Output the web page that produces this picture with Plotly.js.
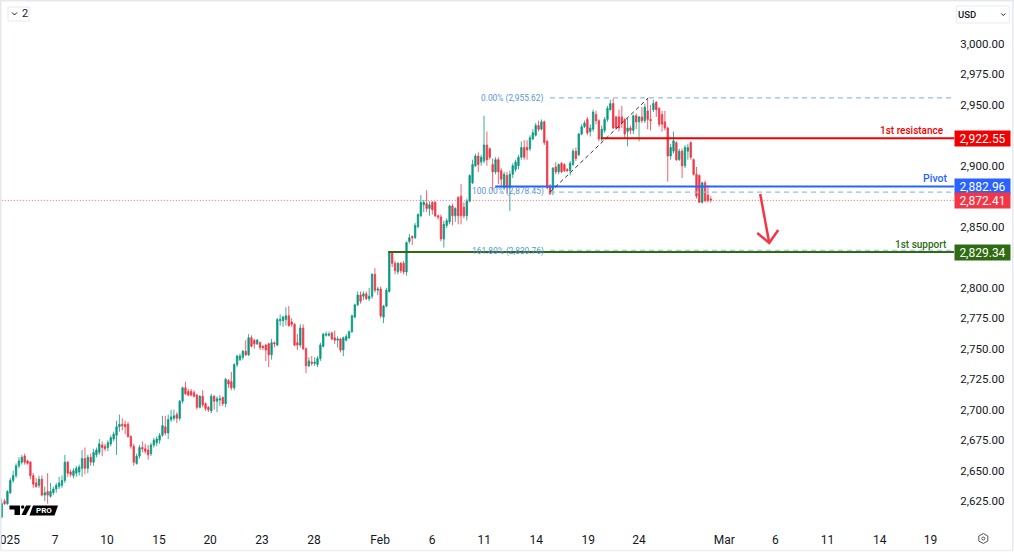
<!DOCTYPE html>
<html><head><meta charset="utf-8">
<script src="https://cdn.plot.ly/plotly-3.0.1.min.js"></script>
<style>html,body{margin:0;padding:0;background:#fff;overflow:hidden}#c{width:1014px;height:559px}</style>
</head><body><div id="c"></div>
<script>
const opens = [
2612,2625,2623,2632,2642,2646,2654,2657,2662,2658,
2657,2646,2640,2638,2643,2630,2633,2629,2632,2635,
2637,2638,2642,2657,2649,2646,2648,2649,2652,2660,
2652,2661,2657,2663,2665,2671,2670,2669,2672,2676,
2679,2686,2688,2688,2688,2678,2670,2656,2662,2669,
2668,2667,2664,2671,2673,2675,2679,2686,2681,2692,
2693,2696,2693,2707,2718,2715,2715,2714,2712,2702,
2711,2705,2702,2699,2711,2707,2708,2710,2705,2724,
2723,2718,2737,2741,2743,2748,2745,2759,2757,2754,
2755,2752,2753,2754,2745,2755,2753,2773,2773,2774,
2777,2772,2770,2755,2753,2767,2750,2736,2739,2738,
2737,2742,2752,2761,2761,2763,2759,2757,2758,2749,
2757,2759,2764,2776,2786,2794,2793,2795,2791,2793,
2811,2798,2799,2776,2785,2797,2829,2820,2813,2820,
2820,2813,2838,2842,2841,2850,2859,2868,2869,2865,
2870,2870,2859,2858,2840,2851,2854,2867,2859,2874,
2875,2866,2859,2871,2886,2900,2908,2903,2904,2917,
2914,2901,2895,2905,2896,2882,2892,2882,2893,2897,
2900,2907,2915,2915,2914,2922,2925,2933,2930,2936,
2920,2883,2881,2899,2895,2902,2901,2897,2896,2901,
2912,2909,2926,2932,2938,2928,2930,2942,2937,2922,
2929,2938,2946,2951,2940,2940,2940,2938,2928,2931,
2929,2941,2936,2940,2937,2945,2938,2946,2952,2947,
2942,2936,2931,2908,2912,2919,2905,2912,2900,2912,
2919,2905,2893,2892,2870,2886,2876,2872.5];
const highs = [
2627,2627,2634,2644,2650,2656,2661,2663,2664,2659,
2658,2648,2644,2646,2646,2637,2648,2640,2637,2640,
2645,2646,2663,2658,2651,2652,2654,2655,2667,2669,
2663,2664,2668,2669,2676,2674,2672,2675,2679,2682,
2691,2696,2693,2691,2690,2679,2672,2664,2671,2674,
2672,2671,2673,2677,2678,2681,2695,2695,2696,2700,
2700,2698,2708,2719,2723,2717,2717,2716,2713,2712,
2716,2706,2703,2713,2712,2711,2712,2711,2726,2725,
2731,2738,2745,2746,2749,2757,2762,2761,2758,2758,
2756,2753,2754,2755,2758,2756,2775,2778,2777,2784,
2785,2775,2771,2762,2770,2770,2751,2743,2744,2743,
2744,2755,2763,2764,2764,2764,2765,2760,2759,2760,
2762,2765,2778,2787,2797,2797,2797,2797,2800,2812,
2816,2801,2801,2786,2800,2830,2830,2822,2821,2821,
2822,2838,2844,2843,2853,2861,2876,2872,2880,2871,
2871,2871,2860,2860,2855,2857,2868,2869,2866,2875,
2885,2870,2873,2893,2905,2910,2911,2909,2941,2928,
2915,2906,2907,2907,2898,2895,2895,2896,2902,2905,
2909,2920,2921,2921,2925,2930,2935,2937,2938,2937,
2921,2885,2899,2903,2902,2903,2902,2898,2904,2914,
2915,2927,2934,2937,2940,2934,2946,2945,2938,2933,
2940,2949,2954,2955,2941,2946,2949,2939,2939,2933,
2942,2943,2941,2948,2951,2955,2950,2954,2953,2948,
2945,2945,2932,2918,2928,2920,2914,2914,2917,2918,
2920,2906,2899,2893,2887,2888,2884,2875];
const lows = [
2611,2622,2622,2631,2640,2644,2652,2655,2655,2655,
2643,2636,2636,2636,2629,2625,2623,2628,2630,2632,
2635,2636,2640,2645,2645,2644,2645,2646,2645,2647,
2648,2654,2654,2661,2663,2662,2666,2666,2670,2674,
2663,2682,2683,2680,2677,2668,2654,2655,2660,2665,
2664,2659,2662,2669,2670,2672,2678,2679,2676,2690,
2691,2689,2691,2705,2712,2711,2711,2710,2700,2701,
2702,2699,2698,2697,2700,2698,2703,2703,2702,2718,
2716,2716,2735,2740,2741,2744,2744,2751,2750,2753,
2749,2749,2740,2735,2741,2751,2752,2769,2768,2769,
2768,2768,2752,2749,2751,2749,2730,2735,2736,2736,
2735,2740,2751,2760,2760,2757,2754,2751,2747,2744,
2756,2758,2763,2775,2785,2787,2790,2790,2789,2791,
2796,2794,2775,2771,2784,2796,2817,2811,2811,2812,
2811,2810,2836,2835,2840,2849,2858,2862,2862,2859,
2860,2858,2856,2838,2833,2849,2852,2851,2854,2852,
2852,2857,2855,2870,2885,2899,2895,2900,2902,2900,
2905,2880,2893,2885,2882,2880,2877,2863,2890,2895,
2897,2905,2905,2905,2912,2921,2924,2928,2929,2917,
2881,2876,2876,2893,2893,2894,2895,2895,2892,2900,
2904,2908,2925,2931,2925,2924,2928,2934,2920,2920,
2927,2936,2945,2930,2930,2928,2931,2922,2916,2926,
2926,2930,2920,2935,2935,2930,2929,2944,2940,2932,
2928,2929,2887,2905,2910,2904,2904,2890,2898,2905,
2905,2892,2873,2870,2869,2870,2870,2870];
const closes = [
2623,2623,2633,2642,2646,2654,2658,2661,2657,2656,
2646,2639,2637,2643,2630,2632,2630,2633,2635,2638,
2640,2642,2657,2648,2647,2650,2652,2653,2660,2652,
2661,2657,2665,2667,2672,2669,2668,2673,2677,2680,
2686,2688,2687,2686,2678,2670,2657,2662,2669,2668,
2666,2663,2671,2675,2676,2679,2687,2681,2692,2694,
2695,2693,2707,2718,2713,2712,2712,2711,2702,2711,
2704,2701,2700,2711,2707,2709,2709,2705,2725,2721,
2718,2737,2744,2744,2748,2745,2759,2752,2754,2757,
2751,2751,2749,2745,2755,2754,2774,2774,2776,2777,
2769,2770,2753,2753,2767,2750,2736,2740,2738,2739,
2742,2753,2762,2762,2762,2758,2757,2758,2749,2759,
2760,2764,2777,2786,2794,2789,2795,2791,2793,2811,
2798,2799,2777,2785,2798,2829,2820,2814,2820,2814,
2813,2837,2841,2841,2851,2860,2870,2870,2865,2868,
2864,2859,2858,2840,2852,2855,2867,2859,2865,2859,
2859,2859,2871,2892,2901,2908,2901,2907,2917,2905,
2907,2895,2905,2895,2889,2893,2882,2893,2900,2903,
2907,2915,2907,2913,2923,2927,2933,2930,2936,2919,
2882,2877,2898,2895,2901,2895,2896,2896,2902,2912,
2906,2926,2932,2935,2927,2931,2944,2937,2922,2930,
2938,2947,2951,2931,2931,2931,2935,2926,2931,2929,
2941,2936,2940,2937,2948,2938,2937,2951,2946,2934,
2934,2931,2908,2915,2920.5,2905,2912,2900,2915,2915,
2907,2893,2875,2870,2886,2871.5,2871.5,2872];

const tickPos = [1.7,18.6,36.7,54.8,72.6,90.7,108.8,131.8,149.9,168.1,186.2,204.3,222,251.7,269.5,287.6,305.8,323.5];
const tickLabels = ['2025','7','10','15','20','23','28','Feb','6','11','14','19','24','Mar','6','11','14','19'];
const priceTicks = [3000,2975,2950,2900,2850,2800,2775,2750,2725,2700,2675,2650,2625];
const resistance = 2922.55, pivot = 2882.96, lastPrice = 2872.41, support = 2829.34;
const fibTop = 2955.62, fibMid = 2878.45, fibExt = 2830.76;
const levelStartResistance = 208.7, levelStartPivot = 171.9, levelStartSupport = 134.6;
const fibStart = 191, fibEnd = 225.2;

const W = 1014, H = 559, plotR = 953.7, plotB = 525;
const FONT = 'Roboto, Arial, sans-serif';
const RED = '#F23645', GREEN = '#089981';
const px = v => v / plotR;
const py = v => 1 - v / plotB;
function P(pts, close){ return pts.map((p,i)=> (i?'L':'M')+px(p[0])+','+py(p[1])).join(' ') + (close?' Z':''); }
const paperShape = (path, opts) => Object.assign({type:'path', xref:'paper', yref:'paper', path, layer:'above'}, opts);

const shapes = [
 {type:'line',xref:'x',yref:'y',x0:fibStart,x1:331.7,y0:fibTop,y1:fibTop,line:{color:'#90bfe8',width:1.2,dash:'5px,4px'}},
 {type:'line',xref:'x',yref:'y',x0:fibStart,x1:331.7,y0:fibMid,y1:fibMid,line:{color:'#90bfe8',width:1.2,dash:'5px,4px'}},
 {type:'line',xref:'x',yref:'y',x0:-1,x1:331.7,y0:lastPrice-0.8,y1:lastPrice-0.8,line:{color:'rgba(242,54,69,0.75)',width:1,dash:'1px,2px'}},
 {type:'line',xref:'x',yref:'y',x0:levelStartResistance,x1:331.7,y0:resistance,y1:resistance,line:{color:'#f00000',width:2}},
 {type:'line',xref:'x',yref:'y',x0:levelStartPivot,x1:331.7,y0:pivot,y1:pivot,line:{color:'#2962ff',width:2}},
 {type:'line',xref:'x',yref:'y',x0:levelStartSupport,x1:331.7,y0:support,y1:support,line:{color:'#2f6b12',width:2}},
 {type:'line',xref:'x',yref:'y',x0:fibStart,x1:331.7,y0:fibExt,y1:fibExt,line:{color:'#90bfe8',width:1,dash:'5px,4px'}},
 {type:'line',xref:'x',yref:'y',x0:fibStart,x1:fibEnd,y0:fibMid,y1:fibTop,line:{color:'#333',width:1,dash:'4px,3px'}},
 // red arrow
 paperShape(P([[760,194],[769,243]]),{line:{color:RED,width:2.5}}),
 paperShape(P([[757,233],[769,243],[778,230]]),{line:{color:RED,width:2.5}}),
 // chrome borders
 paperShape(P([[0,0.5],[1014,0.5]]),{line:{color:'#e6e8ee',width:2}}),
 paperShape(P([[0.5,0],[0.5,550]]),{line:{color:'#e6e8ee',width:2}}),
 paperShape(P([[0,550.5],[1013,550.5]]),{line:{color:'#eceef3',width:1.5}}),
 paperShape(P([[1012.5,0],[1012.5,550]]),{line:{color:'#e6e8ee',width:1.5}}),
 // top-left pill + chevron
 {type:'rect',xref:'paper',yref:'paper',x0:px(8),x1:px(29),y0:py(7),y1:py(21),line:{color:'#e6e8ee',width:1},layer:'above'},
 paperShape(P([[12,12.5],[14.5,15],[17,12.5]]),{line:{color:'#131722',width:1}}),
 // USD pill + caret
 {type:'rect',xref:'paper',yref:'paper',x0:px(956),x1:px(1009),y0:py(6),y1:py(23),line:{color:'#e9ebf0',width:1},layer:'above'},
 paperShape(P([[1001,13.5],[1003,15.5],[1005,13.5]]),{line:{color:'#131722',width:1}}),
 // TV logo
 paperShape(P([[9.5,505.5],[20,505.5],[20,515],[14.5,515],[14.5,509.5],[9.5,509.5]],true),{fillcolor:'#000',line:{width:0}}),
 {type:'circle',xref:'paper',yref:'paper',x0:px(21),x1:px(24.4),y0:py(505.3),y1:py(508.7),fillcolor:'#000',line:{width:0},layer:'above'},
 paperShape(P([[26,505.5],[31,505.5],[26,515],[21.5,515]],true),{fillcolor:'#000',line:{width:0}}),
 paperShape(P([[33,505.5],[58,505.5],[54.5,515.5],[29.5,515.5]],true),{fillcolor:'#000',line:{width:0}}),
 // settings icon
 paperShape(P([[983,533.5],[987.5,536],[987.5,541],[983,543.5],[978.5,541],[978.5,536]],true),{line:{color:'#555',width:1}}),
 {type:'circle',xref:'paper',yref:'paper',x0:px(981.5),x1:px(984.5),y0:py(537),y1:py(540),line:{color:'#555',width:1},layer:'above'}
];

function priceTag(text, price, bg, yshift){
  return {xref:'paper',yref:'y',x:1,y:price,xanchor:'left',yanchor:'middle',showarrow:false,text,
    font:{family:FONT,size:12,color:'#fff',weight:400},bgcolor:bg,width:55,height:15,borderpad:0,align:'center',yshift:yshift||0};
}
function note(text,xp,yp,color,size,anchor,weight){
  return {xref:'paper',yref:'paper',x:px(xp),y:py(yp),xanchor:anchor||'right',yanchor:'middle',showarrow:false,text,
    font:{family:FONT,size,color,weight:weight||400},borderpad:0,borderwidth:0,bgcolor:'rgba(0,0,0,0)'};
}
const annotations = [
 priceTag('2,922.55',resistance,'#f00000',-0.5),
 priceTag('2,882.96',pivot,'#2962ff',0),
 priceTag('2,872.41',lastPrice,'#f23645',-1),
 priceTag('2,829.34',support,'#2f6b12',-0.5),
 note('1st resistance',944,131,'#f00000',10,'right',500),
 note('Pivot',947,178.7,'#2962ff',10.5,'right',500),
 note('1st support',947,244.5,'#2f6b12',10,'right',500),
 note('0.00% (2,955.62)',544,98.5,'#5a96d6',8.4),
 note('100.00% (2,878.45)',544,192,'#5a96d6',8.4),
 note('161.80% (2,830.76)',544,251,'#5a96d6',8.4),
 note('USD',958,14.3,'#131722',9.5,'left',500),
 note('2',22,14,'#131722',11,'left',400),
 note('PRO',44,510.7,'#ffffff',8,'center',700)
];

const trace = {type:'candlestick',x:opens.map((_,i)=>i),open:opens,high:highs,low:lows,close:closes,
  increasing:{line:{color:GREEN,width:0.8},fillcolor:GREEN},
  decreasing:{line:{color:RED,width:0.8},fillcolor:RED},
  whiskerwidth:0,width:0.45,hoverinfo:'skip'};

const layout = {width:W,height:H,margin:{l:0,r:W-plotR,t:0,b:H-plotB,pad:0},
  paper_bgcolor:'#fff',plot_bgcolor:'#fff',showlegend:false,
  xaxis:{type:'linear',range:[-0.59,331.7],rangeslider:{visible:false},showgrid:false,zeroline:false,showline:false,
    tickmode:'array',tickvals:tickPos,ticktext:tickLabels,ticks:'outside',ticklen:4,tickcolor:'rgba(0,0,0,0)',
    ticklabeloverflow:'allow',tickangle:0,tickfont:{family:FONT,size:12,color:'#131722'}},
  yaxis:{side:'right',range:[2605.5,3035.9],showgrid:false,zeroline:false,showline:false,
    tickmode:'array',tickvals:priceTicks,tickformat:',.2f',ticks:'outside',ticklen:3,tickcolor:'rgba(0,0,0,0)',
    tickfont:{family:FONT,size:11.5,color:'#131722'}},
  shapes,annotations};
Plotly.newPlot('c',[trace],layout,{staticPlot:true,displayModeBar:false});
</script></body></html>
